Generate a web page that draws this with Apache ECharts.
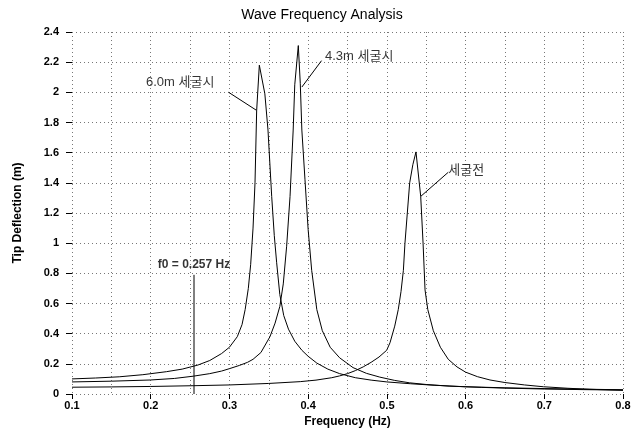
<!DOCTYPE html>
<html>
<head>
<meta charset="utf-8">
<script src="https://cdn.jsdelivr.net/npm/echarts@6/dist/echarts.min.js"></script>
<style>html,body{margin:0;padding:0;background:#fff}#c{width:644px;height:434px}</style>
</head>
<body>
<div id="c"></div>
<script>
// ---- data ----
const titleText = 'Wave Frequency Analysis';
const xName = 'Frequency (Hz)';
const yName = 'Tip Deflection (m)';

// 6.0m 세굴시
const scour60Freq = [0.10,0.13,0.16,0.19,0.22,0.24,0.26,0.275,0.29,0.30,0.31,0.316,0.32,0.324,0.327,0.33,0.3325,0.3346,0.338,0.345,0.349,0.3537,0.357,0.36,0.364,0.369,0.375,0.383,0.392,0.40,0.411,0.425,0.44,0.46,0.48,0.50,0.53,0.56,0.60,0.65,0.70,0.75,0.80];
const scour60Val  = [0.100,0.106,0.114,0.128,0.148,0.165,0.192,0.222,0.268,0.31,0.38,0.46,0.56,0.70,0.86,1.10,1.40,1.88,2.18,1.99,1.75,1.31,1.05,0.87,0.66,0.52,0.43,0.35,0.29,0.25,0.205,0.165,0.135,0.108,0.092,0.080,0.068,0.058,0.048,0.041,0.036,0.032,0.028];

// 4.3m 세굴시
const scour43Freq = [0.10,0.15,0.20,0.23,0.254,0.275,0.29,0.30,0.313,0.323,0.33,0.34,0.3515,0.358,0.364,0.3684,0.3727,0.377,0.381,0.383,0.3875,0.39,0.392,0.396,0.40,0.4045,0.411,0.418,0.428,0.44,0.457,0.474,0.491,0.51,0.529,0.55,0.58,0.62,0.65,0.70,0.75,0.80];
const scour43Val  = [0.080,0.085,0.093,0.103,0.118,0.135,0.152,0.168,0.19,0.21,0.23,0.275,0.38,0.47,0.58,0.73,0.98,1.31,1.75,2.05,2.31,2.06,1.75,1.42,1.09,0.82,0.56,0.42,0.31,0.24,0.175,0.137,0.112,0.090,0.074,0.063,0.052,0.044,0.039,0.033,0.029,0.026];

// 세굴전
const preFreq = [0.10,0.15,0.20,0.254,0.30,0.35,0.39,0.41,0.43,0.44,0.45,0.46,0.47,0.48,0.49,0.4998,0.504,0.51,0.5145,0.518,0.521,0.523,0.526,0.529,0.533,0.537,0.543,0.546,0.5485,0.552,0.559,0.568,0.578,0.589,0.60,0.615,0.631,0.65,0.675,0.699,0.73,0.758,0.80];
const preVal  = [0.045,0.047,0.050,0.055,0.060,0.070,0.082,0.092,0.108,0.120,0.135,0.155,0.18,0.21,0.245,0.29,0.34,0.45,0.56,0.68,0.82,1.00,1.20,1.40,1.52,1.605,1.31,1.00,0.69,0.56,0.42,0.31,0.23,0.18,0.145,0.115,0.093,0.076,0.060,0.048,0.038,0.031,0.025];

// annotations: text, text anchor (left edge, middle), pointer start, pointer end on curve
const annoText   = ['6.0m 세굴시', '4.3m 세굴시', '세굴전'];
const annoAnchor = [[0.194,2.066],[0.4214,2.24],[0.578,1.48]];
const annoFrom   = [[0.299,2.00],[0.417,2.21],[0.578,1.47]];
const annoTo     = [[0.3346,1.88],[0.392,2.035],[0.543,1.31]];
const f0Text = 'f0 = 0.257 Hz';
const f0Pos = 0.255;
const f0Top = 0.79;
const f0LabelVal = 0.86;

const xTicks = [0.1,0.2,0.3,0.4,0.5,0.6,0.7,0.8];
const yTicks = [0,0.2,0.4,0.6,0.8,1,1.2,1.4,1.6,1.8,2,2.2,2.4];

const zip = (a,b) => a.map((v,i)=>[v,b[i]]);
const FONT = '"Liberation Sans", Arial, "Noto Sans CJK KR", sans-serif';

const curveStyle = {type:'line', showSymbol:false, symbol:'none', smooth:false, lineStyle:{color:'#000', width:1}, animation:false, z:3, silent:true};

const series = [
  Object.assign({name:'6.0m', data: zip(scour60Freq, scour60Val)}, curveStyle),
  Object.assign({name:'4.3m', data: zip(scour43Freq, scour43Val)}, curveStyle),
  Object.assign({name:'pre', data: zip(preFreq, preVal)}, curveStyle),
];
annoText.forEach((t,i)=>{
  series.push(Object.assign({}, curveStyle, {data:[annoFrom[i], annoTo[i]]}));
});
series.push({type:'scatter', symbolSize:0, silent:true, animation:false, z:5,
  data: annoText.map((t,i)=>({value:annoAnchor[i], label:{show:true, formatter:t, position:'right', distance:0, fontFamily:FONT, fontSize:13, color:'#000'}}))
});
series.push(Object.assign({}, curveStyle, {data:[[f0Pos,0],[f0Pos,f0Top]]}));
series.push({type:'scatter', symbolSize:0, silent:true, animation:false, z:5,
  data:[{value:[f0Pos,f0LabelVal], label:{show:true, formatter:f0Text, position:'inside', fontFamily:FONT, fontSize:12, fontWeight:'bold', color:'#000'}}]
});

const chart = echarts.init(document.getElementById('c'), null, {renderer:'canvas'});
chart.setOption({
  animation:false,
  backgroundColor:'#fff',
  title:{text:titleText, left:'center', top:3, textStyle:{fontFamily:FONT, fontSize:14, fontWeight:'normal', color:'#000'}},
  grid:{left:72, right:21, top:32, bottom:40},
  xAxis:[
    {type:'value', min:xTicks[0], max:xTicks[xTicks.length-1], interval:0.1,
     name:xName, nameLocation:'middle', nameGap:21, nameTextStyle:{fontFamily:FONT, fontSize:12, fontWeight:'bold', color:'#000'},
     axisLine:{show:false}, axisTick:{show:true, length:5, lineStyle:{color:'#000'}},
     axisLabel:{margin:6, fontFamily:FONT, fontSize:11, fontWeight:'bold', color:'#000', formatter:v=>String(+v.toFixed(1))},
     splitLine:{show:false}},
    {type:'value', min:xTicks[0], max:xTicks[xTicks.length-1], interval:0.05, position:'bottom',
     axisLine:{show:false}, axisTick:{show:false}, axisLabel:{show:false},
     splitLine:{show:true, lineStyle:{color:'#777', type:[1,3], width:1}}}
  ],
  yAxis:{type:'value', min:yTicks[0], max:yTicks[yTicks.length-1], interval:0.2,
     name:yName, nameLocation:'middle', nameGap:48, nameRotate:90, nameTextStyle:{fontFamily:FONT, fontSize:12, fontWeight:'bold', color:'#000'},
     axisLine:{show:false}, axisTick:{show:true, length:6, lineStyle:{color:'#000'}},
     axisLabel:{margin:13, fontFamily:FONT, fontSize:11, fontWeight:'bold', color:'#000', formatter:v=>String(+v.toFixed(1))},
     splitLine:{show:true, lineStyle:{color:'#777', type:[1,3], width:1}}},
  series: series
});
</script>
</body>
</html>
